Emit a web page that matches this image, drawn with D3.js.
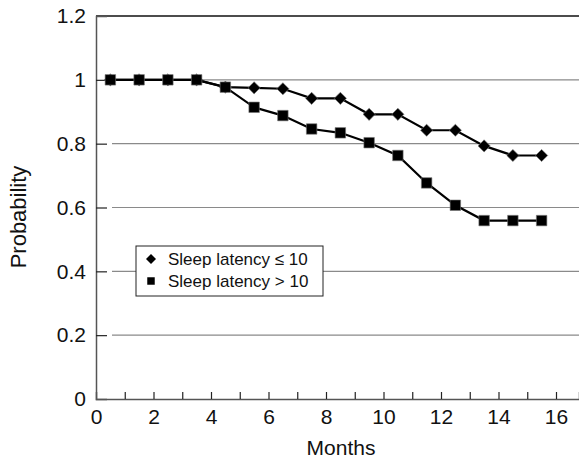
<!DOCTYPE html>
<html>
<head>
<meta charset="utf-8">
<script src="https://cdn.jsdelivr.net/npm/d3@7"></script>
<style>
  body { margin: 0; background: #fff; }
  svg { display: block; font-family: "Liberation Sans", Arial, Helvetica, sans-serif; }
</style>
</head>
<body>
<svg id="chart" width="579" height="459"></svg>
<script>
// Survival probability by month, two sleep latency groups
const months = [0.5, 1.5, 2.5, 3.5, 4.5, 5.5, 6.5, 7.5, 8.5, 9.5, 10.5, 11.5, 12.5, 13.5, 14.5, 15.5];
const latencyLow = [1, 1, 1, 1, 0.977, 0.975, 0.972, 0.942, 0.942, 0.892, 0.892, 0.842, 0.842, 0.793, 0.763, 0.763];
const latencyHigh = [1, 1, 1, 1, 0.977, 0.914, 0.888, 0.846, 0.834, 0.803, 0.763, 0.677, 0.607, 0.559, 0.559, 0.559];
const yTicks = [0, 0.2, 0.4, 0.6, 0.8, 1, 1.2];
const yTickLabels = ['0', '0.2', '0.4', '0.6', '0.8', '1', '1.2'];
const xLabelTicks = [0, 2, 4, 6, 8, 10, 12, 14, 16];
const legendLabels = ['Sleep latency \u2264 10', 'Sleep latency > 10'];

const svg = d3.select('#chart');
const margin = { top: 16, right: 0, bottom: 60, left: 96 };
const W = 579, H = 459;

const x = d3.scaleLinear().domain([0, 16.8]).range([margin.left, W - margin.right]);
const y = d3.scaleLinear().domain([0, 1.2]).range([H - margin.bottom, margin.top]);

// Gridlines (start a little right of the axis, as in the original)
svg.append('g').selectAll('line')
    .data(yTicks.filter(v => v > 0 && v < 1.2))
    .join('line')
    .attr('x1', margin.left + 16).attr('x2', W)
    .attr('y1', d => y(d)).attr('y2', d => y(d))
    .attr('stroke', '#8a8a8a').attr('stroke-width', 1.2);

// Top border
svg.append('line')
    .attr('x1', margin.left).attr('x2', W)
    .attr('y1', y(1.2)).attr('y2', y(1.2))
    .attr('stroke', '#111').attr('stroke-width', 1.5);

// Y axis: inward ticks, labels on the left
const yAxis = svg.append('g')
    .attr('transform', `translate(${margin.left},0)`)
    .call(d3.axisLeft(y).tickValues(yTicks).tickSize(-11).tickPadding(10)
        .tickFormat((d, i) => yTickLabels[i]));
yAxis.select('.domain').attr('stroke', '#555').attr('stroke-width', 1.5);
yAxis.selectAll('.tick line').attr('stroke', '#222').attr('stroke-width', 1.2);
yAxis.selectAll('.tick text').attr('font-size', 21).attr('fill', '#111')
    .attr('font-family', '"Liberation Sans", Arial, sans-serif');
yAxis.selectAll('.tick').filter(d => d === 0 || d === 1.2).select('line').remove();

// X axis: ticks every month pointing up, labels every 2
const xAxis = svg.append('g')
    .attr('transform', `translate(0,${y(0)})`)
    .call(d3.axisBottom(x).tickValues(d3.range(0, 17)).tickSize(-7).tickPadding(10)
        .tickFormat(d => xLabelTicks.includes(d) ? d : ''));
xAxis.select('.domain').attr('stroke', '#555').attr('stroke-width', 1.5);
xAxis.selectAll('.tick line').attr('stroke', '#222').attr('stroke-width', 1.2);
xAxis.selectAll('.tick text').attr('font-size', 21).attr('fill', '#111')
    .attr('font-family', '"Liberation Sans", Arial, sans-serif');
xAxis.selectAll('.tick').filter(d => d === 0).select('line').remove();

// Axis titles
svg.append('text')
    .attr('x', 341).attr('y', 455)
    .attr('text-anchor', 'middle').attr('font-size', 21).attr('fill', '#111')
    .text('Months');
svg.append('text')
    .attr('transform', 'translate(26,217) rotate(-90)')
    .attr('text-anchor', 'middle').attr('font-size', 22).attr('fill', '#111')
    .text('Probability');

// Series
const line = d3.line().x(d => x(d[0])).y(d => y(d[1]));
const lowPts = months.map((m, i) => [m, latencyLow[i]]);
const highPts = months.map((m, i) => [m, latencyHigh[i]]);

const diamond = d3.symbol().type(d3.symbolSquare).size(74);
const square = d3.symbol().type(d3.symbolSquare).size(110);

svg.append('path').datum(lowPts).attr('d', line)
    .attr('fill', 'none').attr('stroke', '#000').attr('stroke-width', 2.2);
svg.append('g').selectAll('path').data(lowPts).join('path')
    .attr('d', diamond)
    .attr('transform', d => `translate(${x(d[0])},${y(d[1])}) rotate(45)`)
    .attr('fill', '#000').attr('stroke', '#777').attr('stroke-width', 0.6);

svg.append('path').datum(highPts).attr('d', line)
    .attr('fill', 'none').attr('stroke', '#000').attr('stroke-width', 2.2);
svg.append('g').selectAll('path').data(highPts).join('path')
    .attr('d', square)
    .attr('transform', d => `translate(${x(d[0])},${y(d[1])})`)
    .attr('fill', '#000').attr('stroke', '#777').attr('stroke-width', 0.6);

// Legend
const lg = svg.append('g').attr('transform', 'translate(136,246)');
lg.append('rect')
    .attr('width', 187).attr('height', 50)
    .attr('fill', '#fff').attr('stroke', '#222').attr('stroke-width', 1);
lg.append('path')
    .attr('d', d3.symbol().type(d3.symbolSquare).size(50)())
    .attr('transform', 'translate(15,13) rotate(45)').attr('fill', '#000');
lg.append('path')
    .attr('d', d3.symbol().type(d3.symbolSquare).size(56)())
    .attr('transform', 'translate(15,35)').attr('fill', '#000');
lg.selectAll('text.lbl').data(legendLabels).join('text')
    .attr('class', 'lbl')
    .attr('x', 32).attr('y', (d, i) => 19 + i * 22)
    .attr('font-size', 17).attr('fill', '#111')
    .text(d => d);
</script>
</body>
</html>
